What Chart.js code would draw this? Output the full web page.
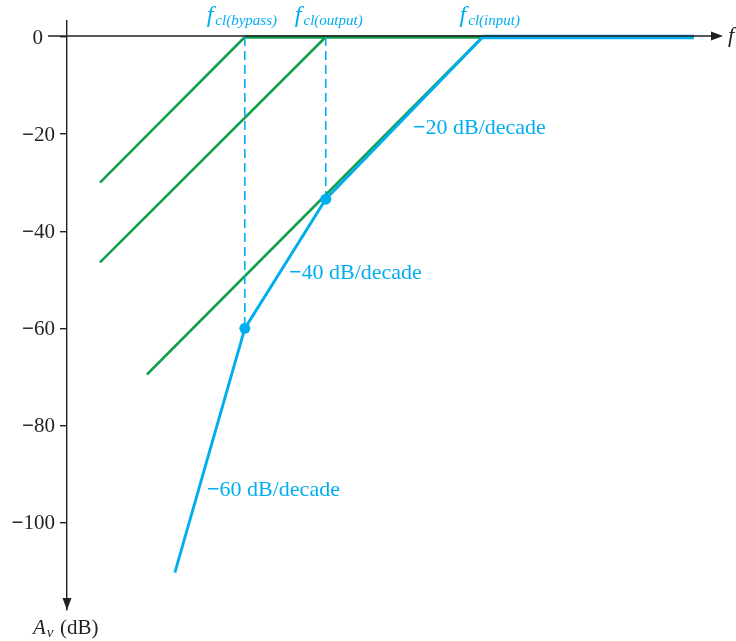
<!DOCTYPE html>
<html>
<head>
<meta charset="utf-8">
<script src="https://cdn.jsdelivr.net/npm/chart.js@4/dist/chart.umd.min.js"></script>
<style>
  html, body { margin: 0; padding: 0; background: #fff; }
  #wrap { width: 736px; height: 641px; position: relative; }
</style>
</head>
<body>
<div id="wrap"><canvas id="myChart"></canvas></div>
<script>
// gain axis ticks (dB)
const yTicks = [0, -20, -40, -60, -80, -100];

// corner frequencies, x in decades of log f
const cornerNames = ['bypass', 'output', 'input'];
const cornerX = [1.835, 2.67, 4.29];

// start points of the three +20 dB/decade asymptotes (green)
const greenStartX = [0.34, 0.34, 0.825];
const greenStartY = [-30, -46.4, -69.5];

// overall response (blue), from the flat band down to the low-frequency end
const bodeX = [6.47, 4.29, 2.67, 1.835, 1.113];
const bodeY = [0, 0, -33.4, -60, -110.3];

const slopeTexts = ['\u221220 dB/decade', '\u221240 dB/decade', '\u221260 dB/decade'];

const AXIS = '#231f20';
const BLUE = '#00aeef';
const GREEN = '#12a04c';
const SERIF = '"Liberation Serif", "DejaVu Serif", serif';

function pts(xs, ys) {
    return xs.map((x, i) => ({ x, y: ys[i] }));
}

function drawSigned(ctx, text, x, y, align, size) {
    // draw leading minus a bit heavier, like the print
    ctx.textBaseline = 'middle';
    let minus = '';
    let rest = text;
    if (text[0] === '\u2212') {
        minus = '\u2212';
        rest = text.slice(1);
    }
    ctx.font = `bold ${size}px ${SERIF}`;
    const mw = minus ? ctx.measureText(minus).width : 0;
    ctx.font = `${size}px ${SERIF}`;
    const rw = ctx.measureText(rest).width;
    let left = align === 'right' ? x - mw - rw : x;
    ctx.textAlign = 'left';
    if (minus) {
        ctx.font = `bold ${size}px ${SERIF}`;
        ctx.fillText(minus, left, y);
    }
    ctx.font = `${size}px ${SERIF}`;
    ctx.fillText(rest, left + mw, y);
}

const axesPlugin = {
    id: 'bodeAxes',
    afterDatasetsDraw(chart) {
        const { ctx, chartArea, scales } = chart;
        const xs = scales.x;
        const ys = scales.y;
        const y0 = ys.getPixelForValue(0) - 1;
        const left = chartArea.left;

        ctx.save();
        // horizontal f axis with arrow
        ctx.strokeStyle = AXIS;
        ctx.fillStyle = AXIS;
        ctx.lineWidth = 1.4;
        ctx.beginPath();
        ctx.moveTo(left - 19, y0);
        ctx.lineTo(713, y0);
        ctx.stroke();
        ctx.beginPath();
        ctx.moveTo(723, y0);
        ctx.lineTo(711, y0 - 4.5);
        ctx.lineTo(711, y0 + 4.5);
        ctx.closePath();
        ctx.fill();

        // vertical axis arrow
        const yb = chartArea.bottom;
        ctx.beginPath();
        ctx.moveTo(left, yb);
        ctx.lineTo(left - 4.5, yb - 12);
        ctx.lineTo(left + 4.5, yb - 12);
        ctx.closePath();
        ctx.fill();

        // y tick labels
        yTicks.forEach(v => {
            const label = v === 0 ? '0' : '\u2212' + Math.abs(v);
            const rx = v === 0 ? left - 24 : left - 12;
            drawSigned(ctx, label, rx, ys.getPixelForValue(v) + 1, 'right', 21);
        });

        // axis names
        ctx.textBaseline = 'alphabetic';
        ctx.textAlign = 'left';
        ctx.font = `italic 22px ${SERIF}`;
        ctx.fillText('f', 728, y0 + 6);

        ctx.font = `italic 21px ${SERIF}`;
        ctx.fillText('A', 33, 634);
        const aw = ctx.measureText('A').width;
        ctx.font = `italic 15px ${SERIF}`;
        ctx.fillText('v', 33 + aw + 1, 637);
        ctx.font = `21px ${SERIF}`;
        ctx.fillText('(dB)', 60, 634);

        // corner frequency labels
        ctx.fillStyle = BLUE;
        const nudge = [-4, 2, 6];
        cornerX.forEach((fx, i) => {
            const sub = 'cl(' + cornerNames[i] + ')';
            ctx.font = `italic 24px ${SERIF}`;
            const fw = ctx.measureText('f').width;
            ctx.font = `italic 15px ${SERIF}`;
            const sw = ctx.measureText(sub).width;
            const start = xs.getPixelForValue(fx) - (fw + sw) / 2 + nudge[i];
            ctx.font = `italic 24px ${SERIF}`;
            ctx.fillText('f', start, 22);
            ctx.font = `italic 15px ${SERIF}`;
            ctx.fillText(sub, start + fw + 2, 25);
        });

        // slope annotations, anchored in data space
        const anchors = [[3.57, -18.7], [2.29, -48.6], [1.445, -93.3]];
        slopeTexts.forEach((t, i) => {
            drawSigned(ctx, t, xs.getPixelForValue(anchors[i][0]), ys.getPixelForValue(anchors[i][1]), 'left', 22);
        });
        ctx.restore();
    },
};

const datasets = [];

// green asymptotes
cornerX.forEach((fx, i) => {
    datasets.push({
        data: [{ x: greenStartX[i], y: greenStartY[i] }, { x: fx, y: 0 }],
        borderColor: GREEN,
        borderWidth: 2.6,
        order: 3,
    });
});
datasets.push({
    data: [{ x: cornerX[0], y: 0 }, { x: cornerX[2], y: 0 }],
    borderColor: GREEN,
    borderWidth: 3.4,
    order: 3,
});

// dashed drop lines at the two lower corners
[3, 2].forEach(k => {
    datasets.push({
        data: [{ x: bodeX[k], y: 0 }, { x: bodeX[k], y: bodeY[k] }],
        borderColor: BLUE,
        borderWidth: 1.6,
        borderDash: [9, 5],
        order: 2,
    });
});

// blue response: flat band thicker than the roll-off
datasets.push({
    data: pts(bodeX.slice(0, 2), bodeY.slice(0, 2)),
    borderColor: BLUE,
    borderWidth: 4.4,
    order: 1,
});
datasets.push({
    data: pts(bodeX.slice(1), bodeY.slice(1)),
    borderColor: BLUE,
    borderWidth: 2.9,
    order: 1,
});
datasets.push({
    data: pts(bodeX.slice(2, 4), bodeY.slice(2, 4)),
    showLine: false,
    pointRadius: 5.5,
    pointBackgroundColor: BLUE,
    pointBorderWidth: 0,
    order: 0,
});

new Chart(document.getElementById('myChart').getContext('2d'), {
    type: 'scatter',
    data: {
        datasets: datasets.map(d => Object.assign({ showLine: true, pointRadius: 0, fill: false, tension: 0 }, d)),
    },
    options: {
        responsive: true,
        maintainAspectRatio: false,
        animation: false,
        events: [],
        layout: { padding: { left: 8, right: 10, top: 21, bottom: 31 } },
        plugins: {
            legend: { display: false },
            tooltip: { enabled: false },
        },
        scales: {
            x: { type: 'linear', display: false, min: 0, max: 6.8 },
            y: {
                type: 'linear',
                min: -118,
                max: 3.3,
                afterFit: scale => { scale.width = 59; },
                afterBuildTicks: scale => { scale.ticks = yTicks.map(v => ({ value: v })); },
                ticks: { display: false },
                grid: { drawOnChartArea: false, drawTicks: true, tickLength: 7, color: AXIS, lineWidth: 1.4 },
                border: { color: AXIS, width: 1.4 },
            },
        },
    },
    plugins: [axesPlugin],
});
</script>
</body>
</html>
